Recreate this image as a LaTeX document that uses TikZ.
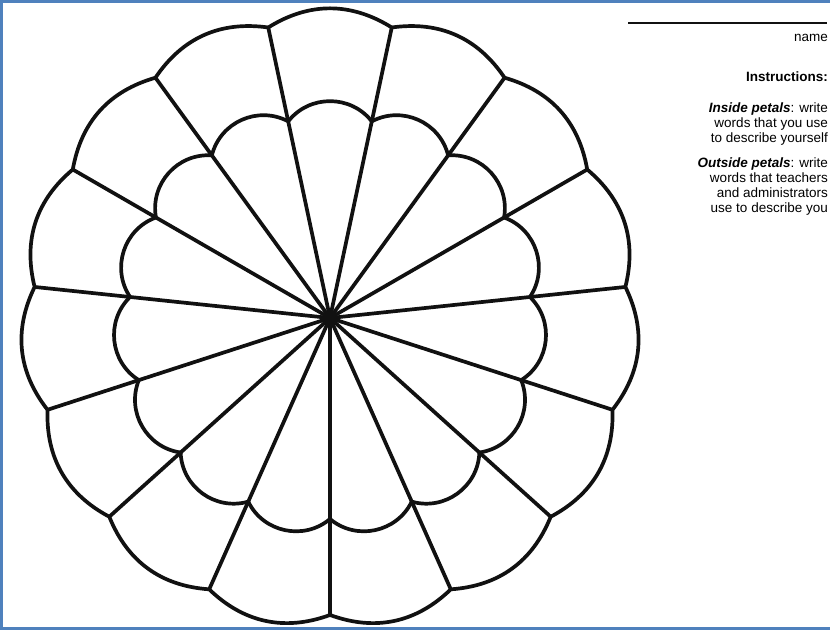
\documentclass[tikz,border=0pt]{standalone}
\usepackage{fontspec}
\setmainfont{Liberation Sans}
\definecolor{frameblue}{RGB}{79,129,189}
\definecolor{ink}{RGB}{17,17,17}
\begin{document}
\begin{tikzpicture}[x=1pt,y=1pt,
  petal/.style={line width=3.7pt, draw=ink, line join=round, line cap=round},
  txt/.style={anchor=base east, inner sep=0pt, font=\fontsize{13.5}{15}\selectfont}]
\useasboundingbox (0,0) rectangle (830,630);
\clip (0,0) rectangle (830,630);
\fill[white] (0,0) rectangle (830,630);
\draw[line width=2.5pt, draw=frameblue] (845,628.5) -- (1.5,628.5) -- (1.5,1.5) -- (845,1.5);
\begin{scope}[shift={(330,312)}]
  \coordinate (c) at (0,0);
  \foreach \k in {0,...,14}{
    \coordinate (o\k) at (270+24*\k:297);
    \coordinate (i\k) at (270+24*\k:201);
  }
  % outer petals
  \draw[petal] (o0) \foreach \k in {1,...,14}{ to[bend right=32] (o\k) } to[bend right=32] (o0) -- cycle;
  % inner petals
  \draw[petal] (i0) \foreach \k in {1,...,14}{ to[bend right=52, looseness=1.05] (i\k) } to[bend right=52, looseness=1.05] (i0) -- cycle;
  % spokes
  \foreach \k in {0,...,14}{ \draw[petal] (c) -- (o\k); }
  \fill[ink] (c) circle (6.5);
\end{scope}
% name line and texts
\coordinate (ul) at (628,607);
\coordinate (ur) at (827,607);
\draw[line width=1.4pt, ink] (ul) -- (ur);
\node[txt] (name) at (828,588) {name};
\node[txt] (instr) at (828,548) {\textbf{Instructions:}};
\node[txt] (in1) at (828,517) {\textbf{\textit{Inside petals}}: write};
\node[txt] (in2) at (828,502) {words that you use};
\node[txt] (in3) at (828,487) {to describe yourself};
\node[txt] (out1) at (828,462) {\textbf{\textit{Outside petals}}: write};
\node[txt] (out2) at (828,447) {words that teachers};
\node[txt] (out3) at (828,432) {and administrators};
\node[txt] (out4) at (828,417) {use to describe you};
\end{tikzpicture}
\end{document}
